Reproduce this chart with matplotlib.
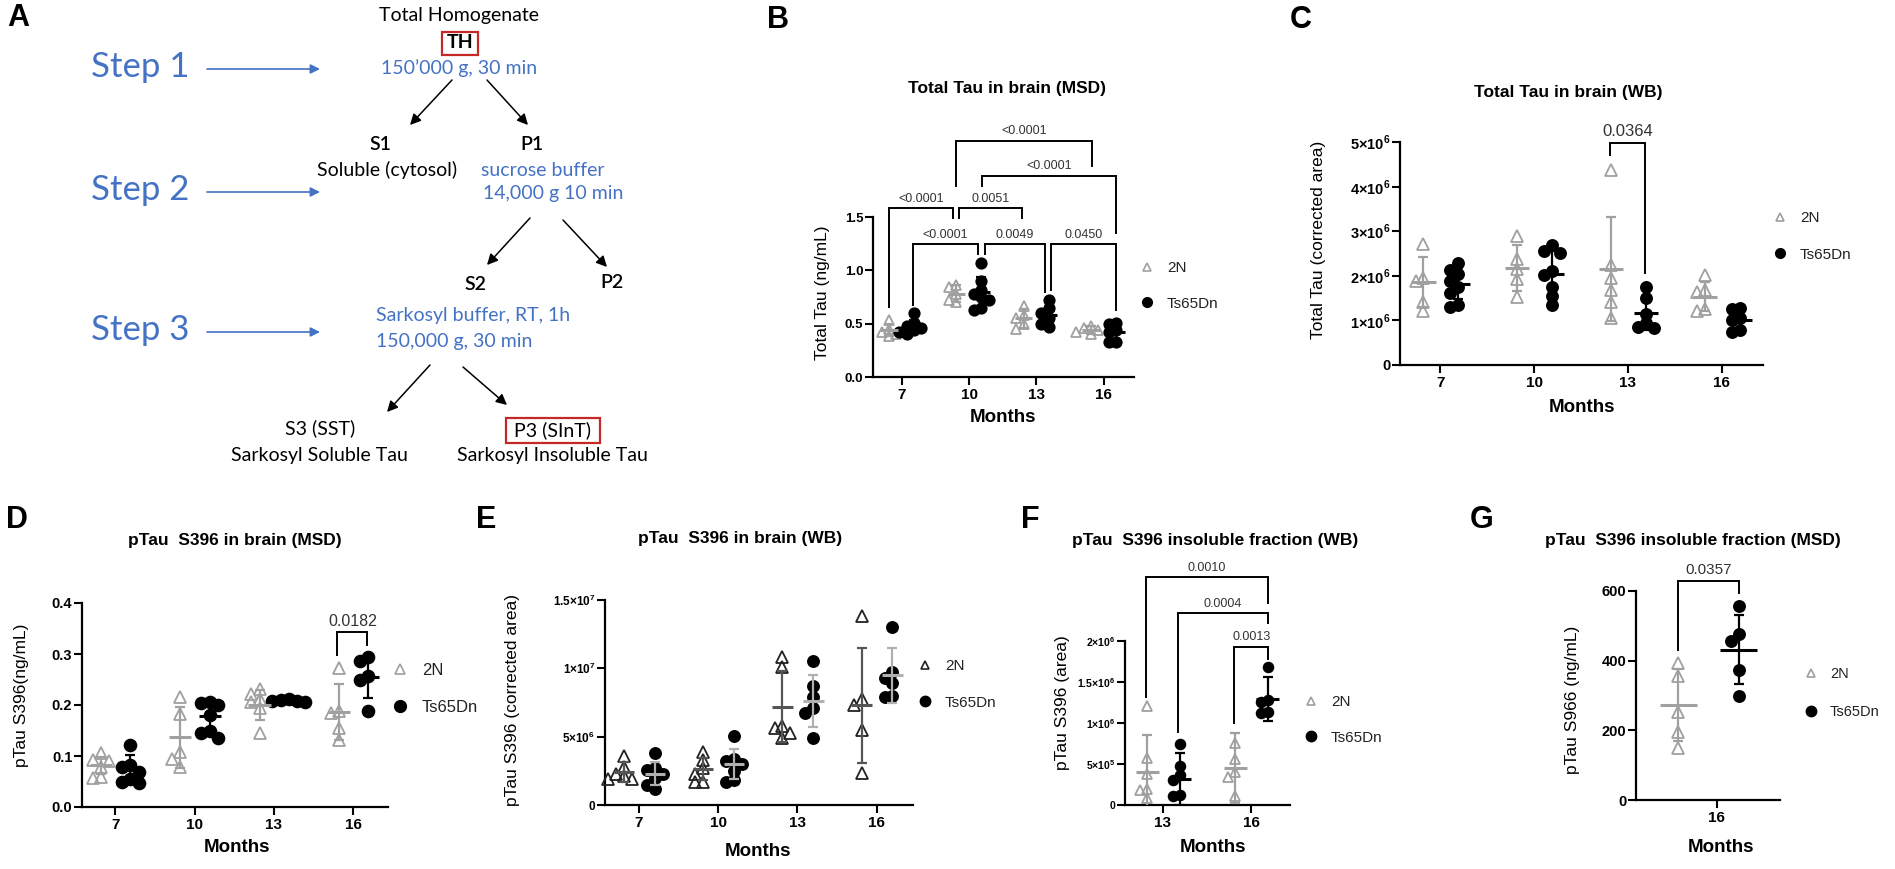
import numpy as np
import matplotlib
matplotlib.use("Agg")
import matplotlib.pyplot as plt
from matplotlib.lines import Line2D
from matplotlib.patches import Rectangle

W, H = 1895, 869

plt.rcParams['font.family'] = ['Liberation Sans', 'DejaVu Sans']
plt.rcParams['mathtext.fontset'] = 'custom'
plt.rcParams['mathtext.rm'] = 'Liberation Sans'
plt.rcParams['mathtext.bf'] = 'Liberation Sans:bold'

GRAY = '#a0a0a0'
BLUE = '#4472c4'
RED = '#c62828'
FA = ['Lato', 'DejaVu Sans']

# ---------------- data ----------------
months = ['7', '10', '13', '16']

# B  Total Tau in brain (MSD), ng/mL
b_2n = [[0.53, 0.45, 0.42, 0.40, 0.38],
        [0.86, 0.84, 0.78, 0.72, 0.70],
        [0.67, 0.58, 0.55, 0.50, 0.45],
        [0.48, 0.46, 0.44, 0.42, 0.40]]
b_ts = [[0.60, 0.51, 0.48, 0.46, 0.44, 0.42, 0.40],
        [1.07, 0.90, 0.82, 0.78, 0.75, 0.72, 0.65, 0.63],
        [0.72, 0.65, 0.60, 0.55, 0.50, 0.47],
        [0.51, 0.50, 0.44, 0.42, 0.33, 0.33]]
b_2n_mean = [0.44, 0.78, 0.55, 0.44]
b_2n_sd = [0.06, 0.08, 0.09, 0.04]
b_ts_mean = [0.47, 0.80, 0.58, 0.42]
b_ts_sd = [0.06, 0.14, 0.08, 0.07]
b_pvals = ['<0.0001', '<0.0001', '<0.0001', '0.0051', '<0.0001', '0.0049', '0.0450']

# C  Total Tau in brain (WB), corrected area x10^6
c_2n = [[2.72, 1.95, 1.88, 1.42, 1.20],
        [2.90, 2.38, 2.15, 1.92, 1.52],
        [4.37, 2.24, 1.95, 1.68, 1.42, 1.05],
        [2.02, 1.68, 1.63, 1.25, 1.22]]
c_ts = [[2.28, 2.12, 2.05, 1.88, 1.75, 1.62, 1.35, 1.30],
        [2.68, 2.55, 2.52, 2.10, 2.02, 1.75, 1.55, 1.35],
        [1.75, 1.50, 1.15, 0.95, 0.85, 0.83],
        [1.28, 1.25, 1.05, 1.02, 0.78, 0.74]]
c_2n_mean = [1.86, 2.17, 2.15, 1.53]
c_2n_sd = [0.57, 0.52, 1.17, 0.33]
c_ts_mean = [1.82, 2.05, 1.17, 1.00]
c_ts_sd = [0.35, 0.50, 0.38, 0.20]
c_pval = '0.0364'

# D  pTau S396 in brain (MSD), ng/mL
d_2n = [[0.105, 0.092, 0.090, 0.078, 0.058, 0.056],
        [0.216, 0.183, 0.108, 0.095, 0.078],
        [0.232, 0.222, 0.212, 0.205, 0.195, 0.145],
        [0.272, 0.188, 0.185, 0.155, 0.132]]
d_ts = [[0.122, 0.082, 0.078, 0.068, 0.055, 0.050, 0.048],
        [0.205, 0.203, 0.200, 0.180, 0.150, 0.145, 0.135],
        [0.212, 0.210, 0.208, 0.207, 0.205],
        [0.295, 0.287, 0.257, 0.250, 0.188]]
d_2n_mean = [0.082, 0.137, 0.200, 0.186]
d_2n_sd = [0.017, 0.060, 0.030, 0.055]
d_ts_mean = [0.074, 0.178, 0.208, 0.255]
d_ts_sd = [0.027, 0.027, 0.003, 0.042]
d_pval = '0.0182'

# E  pTau S396 in brain (WB), corrected area x10^6
e_2n = [[3.6, 2.8, 2.3, 2.1, 1.9, 1.9],
        [3.9, 3.3, 2.7, 2.3, 1.7, 1.65],
        [10.8, 10.1, 5.8, 5.6, 5.3, 4.9],
        [13.8, 7.75, 7.3, 5.5, 2.35]]
e_ts = [[3.8, 2.7, 2.55, 2.25, 2.0, 1.5, 1.2],
        [5.05, 3.35, 3.2, 3.0, 2.5, 1.8, 1.7],
        [10.55, 8.7, 7.9, 7.1, 6.7, 4.9],
        [13.0, 9.7, 9.3, 8.9, 8.0, 7.9]]
e_2n_mean = [2.4, 2.65, 7.2, 7.3]
e_2n_sd = [0.75, 0.8, 2.6, 4.2]
e_ts_mean = [2.3, 3.0, 7.6, 9.5]
e_ts_sd = [0.85, 1.1, 1.9, 2.0]

# F  pTau S396 insoluble fraction (WB), area x10^6
f_months = ['13', '16']
f_2n = [[1.21, 0.57, 0.38, 0.20, 0.18, 0.08],
        [0.76, 0.56, 0.40, 0.34, 0.11]]
f_ts = [[0.74, 0.47, 0.36, 0.30, 0.12, 0.11],
        [1.68, 1.28, 1.26, 1.14, 1.12]]
f_2n_mean = [0.40, 0.45]
f_2n_sd = [0.45, 0.43]
f_ts_mean = [0.32, 1.29]
f_ts_sd = [0.32, 0.27]
f_pvals = ['0.0010', '0.0004', '0.0013']

# G  pTau S396 insoluble fraction (MSD), ng/mL
g_months = ['16']
g_2n = [[393, 356, 253, 196, 150]]
g_ts = [[557, 476, 456, 373, 298]]
g_2n_mean = [272]
g_2n_sd = [103]
g_ts_mean = [432]
g_ts_sd = [100]
g_pval = '0.0357'

# ---------------- helpers ----------------
fig = plt.figure(figsize=(W / 100, H / 100), dpi=100)


def fx(x):
    return x / W


def fy(y):
    return 1 - y / H


def swarm(vals, ypp, xpp, d):
    # simple beeswarm: push a point sideways when it would overlap too much
    placed, offs = [], []
    for v in vals:
        y = v * ypp
        for k in (0, -1, 1, -2, 2, -3, 3):
            x = k * d * 0.7
            if all(np.hypot(x - px, y - py) >= d * 0.7 for px, py in placed):
                break
        placed.append((x, y))
        offs.append(x / xpp)
    return np.array(offs)


def panel(box, cats, xlim, ylim, v2n, vts, m2n, s2n, mts, sts, offs,
          half=0.13, ms=7.5, tri_col=GRAY, bar2n=GRAY, barts='black'):
    l, t, r, b = box
    ax = fig.add_axes([fx(l), fy(b), (r - l) / W, (b - t) / H])
    ax.set_xlim(xlim)
    ax.set_ylim(ylim)
    ypp = (b - t) / (ylim[1] - ylim[0])
    xpp = (r - l) / (xlim[1] - xlim[0])
    d = ms * 100 / 72
    pos = np.arange(len(cats))
    for vals, off, mk, fc, ec in ((v2n, offs[0], '^', 'none', tri_col),
                                  (vts, offs[1], 'o', 'black', 'black')):
        for i, v in enumerate(vals):
            ax.plot(pos[i] + off + swarm(v, ypp, xpp, d), v, ls='none', marker=mk,
                    ms=ms, mfc=fc, mec=ec, mew=1.3, zorder=3, clip_on=False)
    for m, s, off, col in ((m2n, s2n, offs[0], bar2n), (mts, sts, offs[1], barts)):
        xs = pos + off
        ax.errorbar(xs, m, yerr=s, fmt='none', ecolor=col, elinewidth=1.6,
                    capsize=3.5, capthick=1.6, zorder=4)
        ax.hlines(m, xs - half, xs + half, colors=col, lw=2.2, zorder=4)
    for s in ('top', 'right'):
        ax.spines[s].set_visible(False)
    for s in ('left', 'bottom'):
        ax.spines[s].set_linewidth(1.6)
    ax.set_xticks(pos, cats)
    ax.tick_params(length=5.5, width=1.5, direction='out')
    ax.patch.set_alpha(0)
    return ax


def dress(ax, yticks, ylabels, ysize, ylabel, ylab_xy, xlab_xy, title, title_xy, xsize=11):
    ax.set_yticks(yticks, ylabels)
    ax.tick_params(axis='x', labelsize=xsize, pad=2.5)
    ax.tick_params(axis='y', labelsize=ysize, pad=1.5)
    for lab in ax.get_xticklabels() + ax.get_yticklabels():
        lab.set_fontweight('bold')
    ax.set_ylabel(ylabel, fontsize=12.5, va='center')
    ax.yaxis.set_label_coords(fx(ylab_xy[0]), fy(ylab_xy[1]), transform=fig.transFigure)
    ax.set_xlabel('Months', fontsize=13.5, fontweight='bold', va='center')
    ax.xaxis.set_label_coords(fx(xlab_xy[0]), fy(xlab_xy[1]), transform=fig.transFigure)
    fig.text(fx(title_xy[0]), fy(title_xy[1]), title, ha='center', va='center',
             fontsize=12.5, fontweight='bold')


def bracket(ax, x1, x2, y, e1, e2, text, fs):
    ax.plot([x1, x1, x2, x2], [e1, y, y, e2], color='black', lw=1.4,
            clip_on=False, solid_joinstyle='miter')
    ax.annotate(text, ((x1 + x2) / 2, y), xytext=(0, 2.5), textcoords='offset points',
                ha='center', va='bottom', fontsize=fs, color='#333333',
                annotation_clip=False)


def legend(ax, mx, y1, y2, fs, ms, tri_col=GRAY):
    h = [Line2D([], [], ls='none', marker='^', ms=ms, mfc='none', mec=tri_col, mew=1.2),
         Line2D([], [], ls='none', marker='o', ms=ms + 1.5, color='black')]
    fpx = fs * 100 / 72
    ax.legend(h, ['2N', 'Ts65Dn'], loc='center left',
              bbox_to_anchor=(fx(mx - 0.5 * fpx), fy((y1 + y2) / 2)),
              bbox_transform=fig.transFigure, frameon=False, fontsize=fs,
              handlelength=1.0, handletextpad=0.8, borderpad=0, borderaxespad=0,
              labelspacing=(y2 - y1) / fpx - 1.1, labelcolor='#222222')


def sci(m, e):
    return f'{m}×10$^{{\\mathbf{{{e}}}}}$'


# ---------------- panel A : fractionation scheme ----------------
ov = fig.add_axes([0, 0, 1, 1])
ov.set_xlim(0, W)
ov.set_ylim(H, 0)
ov.axis('off')


def t(x, y, s, color='black', size=14, weight='normal', ha='center'):
    ov.text(x, y, s, color=color, fontsize=size, fontweight=weight, ha=ha,
            va='center', family=FA)


def arrow(p0, p1, color='black', lw=1.1, ms=16):
    ov.annotate('', xy=p1, xytext=p0,
                arrowprops=dict(arrowstyle='-|>', color=color, lw=lw,
                                mutation_scale=ms, shrinkA=0, shrinkB=0))


t(459, 15, 'Total Homogenate')
t(460, 43, 'TH', weight='bold')
ov.add_patch(Rectangle((442, 32), 36, 23, fill=False, ec=RED, lw=1.6))
t(459, 68, '150’000 g, 30 min', BLUE)
for i, y in enumerate((67, 190, 330)):
    t(140, y, f'Step {i + 1}', BLUE, 25)
    arrow((207, y + 2), (320, y + 2), BLUE, 1.2, 14)
arrow((452, 80), (410, 125))
arrow((487, 80), (528, 125))
t(380, 145, 'S1', weight='semibold')
t(532, 145, 'P1', weight='semibold')
t(387, 170, 'Soluble (cytosol)')
t(481, 170, 'sucrose buffer', BLUE, ha='left')
t(483, 194, '14,000 g 10 min', BLUE, ha='left')
arrow((530, 218), (487, 265))
arrow((563, 220), (607, 267))
t(475, 284, 'S2', weight='semibold')
t(612, 283, 'P2', weight='semibold')
t(376, 315, 'Sarkosyl buffer, RT, 1h', BLUE, ha='left')
t(376, 341, '150,000 g, 30 min', BLUE, ha='left')
arrow((430, 365), (387, 412))
arrow((463, 367), (507, 405))
t(320, 428, 'S3 (SST)')
t(319, 455, 'Sarkosyl Soluble Tau')
t(553, 430, 'P3 (SInT)')
ov.add_patch(Rectangle((506, 418), 94, 25, fill=False, ec=RED, lw=1.6))
t(552, 455, 'Sarkosyl Insoluble Tau')

# panel letters
for letter, (x, y) in zip('ABCDEFG', [(18, 18), (778, 20), (1301, 20), (17, 520),
                                       (486, 520), (1030, 520), (1482, 520)]):
    fig.text(fx(x), fy(y), letter, fontsize=22, fontweight='bold', ha='center', va='center')

# ---------------- panel B ----------------
axB = panel((873, 217, 1134, 377), months, (-0.43, 3.45), (0, 1.5),
            b_2n, b_ts, b_2n_mean, b_2n_sd, b_ts_mean, b_ts_sd, (-0.19, 0.18))
dress(axB, [0, 0.5, 1.0, 1.5], ['0.0', '0.5', '1.0', '1.5'], 9.5,
      'Total Tau (ng/mL)', (823, 293), (1003, 418),
      'Total Tau in brain (MSD)', (1007, 88))
b_layout = [  # x1, x2, y, leg1 end, leg2 end
    (0.80, 2.83, 2.215, 1.794, 1.98),
    (1.19, 3.18, 1.888, 1.794, 1.346),
    (-0.19, 0.755, 1.58, 0.654, 1.486),
    (0.845, 1.79, 1.58, 1.486, 1.486),
    (0.16, 1.126, 1.243, 0.673, 1.15),
    (1.23, 2.12, 1.243, 1.15, 0.794),
    (2.22, 3.18, 1.243, 0.813, 0.626)]
for (x1, x2, y, e1, e2), p in zip(b_layout, b_pvals):
    bracket(axB, x1, x2, y, e1, e2, p, 9)
legend(axB, 1147, 267, 305, 11, 5.5)

# ---------------- panel C ----------------
axC = panel((1400, 142, 1763, 365), months, (-0.43, 3.44), (0, 5),
            c_2n, c_ts, c_2n_mean, c_2n_sd, c_ts_mean, c_ts_sd, (-0.18, 0.19), ms=8)
dress(axC, [0, 1, 2, 3, 4, 5], ['0'] + [sci(k, 6) for k in range(1, 6)], 10.5,
      'Total Tau (corrected area)', (1318, 240), (1582, 408),
      'Total Tau in brain (WB)', (1568, 93))
bracket(axC, 1.81, 2.18, 4.98, 4.71, 2.06, c_pval, 12)
legend(axC, 1780, 217, 256, 11, 5.5)

# ---------------- panel D ----------------
axD = panel((82, 603, 388, 807), months, (-0.42, 3.44), (0, 0.4),
            d_2n, d_ts, d_2n_mean, d_2n_sd, d_ts_mean, d_ts_sd, (-0.18, 0.19), ms=8.5,
            half=0.14)
dress(axD, [0, 0.1, 0.2, 0.3, 0.4], ['0.0', '0.1', '0.2', '0.3', '0.4'], 10.5,
      'pTau S396(ng/mL)', (22, 695), (237, 847),
      'pTau  S396 in brain (MSD)', (235, 540))
bracket(axD, 2.80, 3.18, 0.343, 0.298, 0.318, d_pval, 11.5)
legend(axD, 400, 669, 709, 12, 7)

# ---------------- panel E ----------------
axE = panel((605, 600, 913, 805), months, (-0.43, 3.46), (0, 15),
            e_2n, e_ts, e_2n_mean, e_2n_sd, e_ts_mean, e_ts_sd, (-0.19, 0.20), ms=8,
            tri_col='#222222', bar2n='#555555', barts='#b0b0b0')
dress(axE, [0, 5, 10, 15], ['0', sci(5, 6), sci(1, 7), sci(1.5, 7)], 8.5,
      'pTau S396 (corrected area)', (512, 700), (758, 852),
      'pTau  S396 in brain (WB)', (740, 539))
legend(axE, 925, 665, 704, 11, 6, tri_col='#222222')

# ---------------- panel F ----------------
axF = panel((1125, 641, 1290, 805), f_months, (-0.43, 1.44), (0, 2),
            f_2n, f_ts, f_2n_mean, f_2n_sd, f_ts_mean, f_ts_sd, (-0.18, 0.19), ms=7)
dress(axF, [0, 0.5, 1, 1.5, 2], ['0', sci(5, 5), sci(1, 6), sci(1.5, 6), sci(2, 6)], 7.5,
      'pTau S396 (area)', (1062, 703), (1213, 847),
      'pTau  S396 insoluble fraction (WB)', (1215, 540))
f_layout = [(-0.19, 1.19, 2.78, 1.32, 2.46),
            (0.17, 1.19, 2.34, 0.89, 2.22),
            (0.81, 1.19, 1.93, 1.00, 1.78)]
for (x1, x2, y, e1, e2), p in zip(f_layout, f_pvals):
    bracket(axF, x1, x2, y, e1, e2, p, 9)
legend(axF, 1311, 701, 739, 11, 6)

# ---------------- panel G ----------------
axG = panel((1636, 591, 1780, 800), g_months, (-0.92, 0.72), (0, 600),
            g_2n, g_ts, g_2n_mean, g_2n_sd, g_ts_mean, g_ts_sd, (-0.44, 0.25), ms=8,
            half=0.21)
dress(axG, [0, 200, 400, 600], ['0', '200', '400', '600'], 10.5,
      'pTau S966 (ng/mL)', (1573, 700), (1721, 848),
      'pTau  S396 insoluble fraction (MSD)', (1693, 540))
bracket(axG, -0.44, 0.25, 629, 430, 594, g_pval, 11)
legend(axG, 1811, 673, 713, 10.5, 6)

fig.savefig('out.png', dpi=100)
